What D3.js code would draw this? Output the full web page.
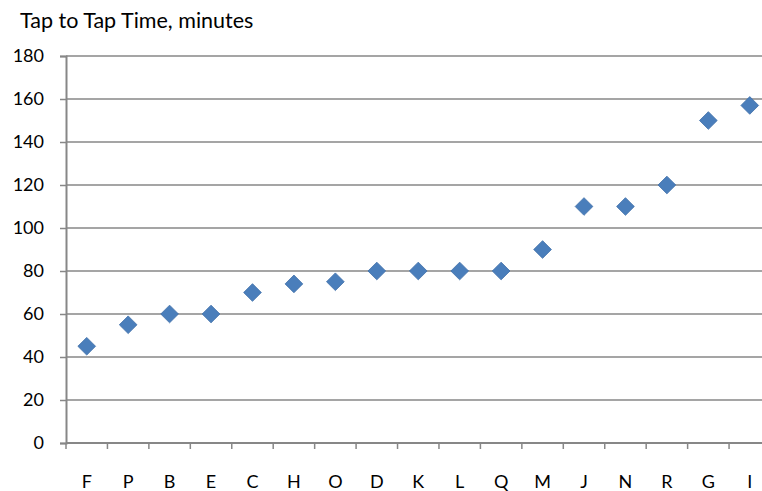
<!DOCTYPE html>
<html>
<head>
<meta charset="utf-8">
<script src="https://cdn.jsdelivr.net/npm/d3@7"></script>
<style>
  html, body { margin: 0; padding: 0; background: #fff; }
  svg text { font-family: Lato, "Open Sans", sans-serif; fill: #000; }
</style>
</head>
<body>
<svg id="chart" width="762" height="491"></svg>
<script>
// Tap to tap time per site, sorted ascending
const categories = ["F","P","B","E","C","H","O","D","K","L","Q","M","J","N","R","G","I"];
const tapMinutes = [45,55,60,60,70,74,75,80,80,80,80,90,110,110,120,150,157];
const yTicks = [0,20,40,60,80,100,120,140,160,180];
const chartTitle = "Tap to Tap Time, minutes";

const svg = d3.select("#chart");
const margin = { left: 66, top: 56, bottom: 48 };
const plotRight = 770.5;
const H = 491;

const x = d3.scaleBand().domain(categories).range([margin.left, plotRight]).padding(0);
const y = d3.scaleLinear().domain([0, 180]).range([H - margin.bottom, margin.top]);

// horizontal gridlines
svg.append("g").selectAll("line").data(yTicks.filter(t => t > 0)).join("line")
  .attr("x1", margin.left).attr("x2", 762)
  .attr("y1", d => y(d)).attr("y2", d => y(d))
  .attr("stroke", "#878787").attr("stroke-width", 1.5);

// y axis
const yAxis = svg.append("g").attr("transform", `translate(${margin.left},0)`)
  .call(d3.axisLeft(y).tickValues(yTicks).tickSize(6).tickPadding(16));
yAxis.select(".domain").attr("stroke", "#878787").attr("stroke-width", 2);
yAxis.selectAll(".tick line").attr("stroke", "#878787").attr("stroke-width", 1.5);
yAxis.selectAll(".tick text").attr("font-size", 18).attr("font-family", "Lato, sans-serif");

// x axis: ticks at band boundaries
const xg = svg.append("g").attr("transform", `translate(0,${y(0)})`);
xg.append("line").attr("x1", margin.left).attr("x2", 762).attr("y1", 0).attr("y2", 0)
  .attr("stroke", "#878787").attr("stroke-width", 2);
xg.selectAll("line.tk").data(categories).join("line").attr("class", "tk")
  .attr("x1", d => x(d)).attr("x2", d => x(d)).attr("y1", 0).attr("y2", 6)
  .attr("stroke", "#878787").attr("stroke-width", 1.5);
xg.selectAll("text").data(categories).join("text")
  .attr("x", d => x(d) + x.bandwidth() / 2).attr("y", 45)
  .attr("text-anchor", "middle").attr("font-size", 18)
  .text(d => d);

// diamond markers
const diamond = d3.symbol().type(d3.symbolDiamond2).size(200);
svg.append("g").selectAll("path").data(categories).join("path")
  .attr("d", diamond)
  .attr("transform", (d, i) => `translate(${x(d) + x.bandwidth() / 2},${y(tapMinutes[i])})`)
  .attr("fill", "#4A7EBB").attr("stroke", "#3F6FA8").attr("stroke-width", 0.8);

// title
svg.append("text").attr("x", 20).attr("y", 28).attr("font-size", 21.5).text(chartTitle);
</script>
</body>
</html>
